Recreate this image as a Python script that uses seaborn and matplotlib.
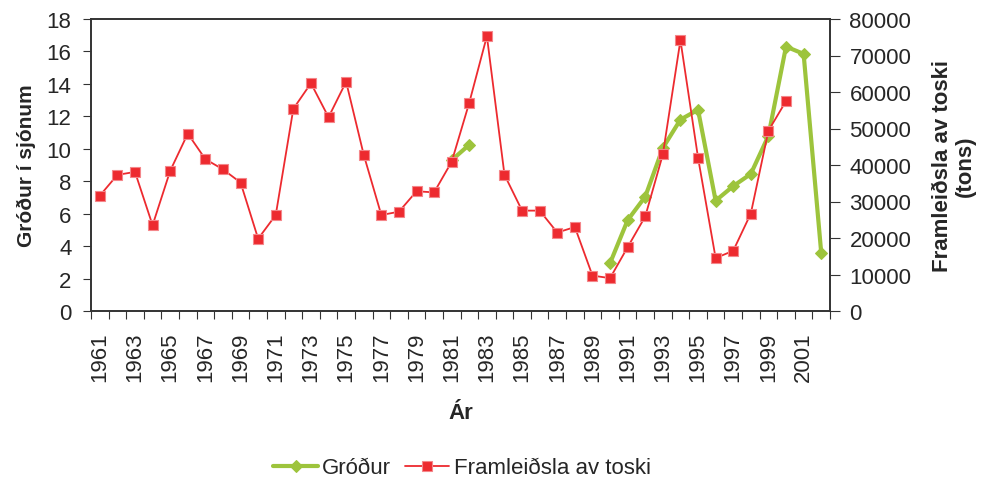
import matplotlib
matplotlib.use("Agg")
import matplotlib.pyplot as plt
import seaborn as sns
import pandas as pd
import numpy as np
from matplotlib.ticker import MultipleLocator, FixedLocator

years = list(range(1961, 2003))

# Framleiðsla av toski (tons), 1961-2000
toskur = [31600, 37300, 38100, 23500, 38400, 48600, 41600, 38800, 35200, 19800,
          26300, 55400, 62400, 53100, 62800, 42800, 26300, 27200, 32800, 32500,
          40900, 57100, 75300, 37300, 27500, 27500, 21500, 23000, 9700, 9000,
          17500, 25900, 42900, 74200, 42000, 14500, 16500, 26700, 49400, 57500]
toskur_years = years[:len(toskur)]

# Gróður í sjónum
grodur_years = [1981, 1982, 1990, 1991, 1992, 1993, 1994, 1995, 1996, 1997,
                1998, 1999, 2000, 2001, 2002]
grodur = [9.3, 10.25, 2.95, 5.6, 7.05, 10.05, 11.8, 12.4, 6.8, 7.7,
          8.45, 10.8, 16.3, 15.85, 3.6]
grodur_seg = [0, 0] + [1] * 13

red = "#ED2A2F"
green = "#9DC43C"

df_t = pd.DataFrame({"year": toskur_years, "val": toskur})
df_g = pd.DataFrame({"year": grodur_years, "val": grodur, "seg": grodur_seg})

sns.set_style("ticks")
plt.rcParams["font.family"] = ["Liberation Sans", "DejaVu Sans"]

fig = plt.figure(figsize=(9.87, 4.81), dpi=100)
ax = fig.add_axes([91 / 987, 1 - 312 / 481, (830 - 91) / 987, (312 - 20) / 481])
ax2 = ax.twinx()

sns.lineplot(data=df_g, x="year", y="val", units="seg", estimator=None, ax=ax,
             color=green, linewidth=3, marker="D", markersize=6,
             markeredgecolor=green, label="Gróður")
sns.lineplot(data=df_t, x="year", y="val", ax=ax2, color=red, linewidth=1.3,
             marker="s", markersize=7.5, markeredgecolor="#F4868A",
             markeredgewidth=0.8, label="Framleiðsla av toski")

ax.set_xlim(1960.5, 2002.5)
ax.set_ylim(0, 18)
ax2.set_ylim(0, 80000)
ax.yaxis.set_major_locator(MultipleLocator(2))
ax2.yaxis.set_major_locator(MultipleLocator(10000))

ax.xaxis.set_major_locator(FixedLocator(list(range(1961, 2002, 2))))
ax.xaxis.set_minor_locator(FixedLocator(list(np.arange(1960.5, 2003, 1.0))))
ax.tick_params(axis="x", which="major", length=0, pad=15, labelsize=16,
               labelrotation=90)
ax.tick_params(axis="x", which="minor", length=6, width=0.8, color="#333333",
               direction="out")
ax.tick_params(axis="y", length=6, width=0.8, color="#333333", labelsize=16,
               pad=8)
ax2.tick_params(axis="y", length=7, width=0.8, color="#333333", labelsize=16,
                pad=7)
for a in (ax, ax2):
    for s in a.spines.values():
        s.set_color("#333333")
        s.set_linewidth(1.2)

ax.set_xlabel("Ár", fontsize=16, fontweight="bold", labelpad=15)
ax.set_ylabel("Gróður í sjónum", fontsize=15, fontweight="bold", labelpad=8)
ax2.set_ylabel("Framleiðsla av toski\n(tons)", fontsize=16, fontweight="bold",
               labelpad=15, linespacing=1.1)

h1, l1 = ax.get_legend_handles_labels()
h2, l2 = ax2.get_legend_handles_labels()
ax.get_legend().remove()
ax2.get_legend().remove()
fig.legend(h1[:1] + h2[:1], l1[:1] + l2[:1], loc="center",
           bbox_to_anchor=(462 / 987, 1 - 469 / 481),
           ncol=2, frameon=False, fontsize=16, handlelength=2.0,
           columnspacing=0.6, handletextpad=0.2)

fig.savefig("out.png", dpi=100)
